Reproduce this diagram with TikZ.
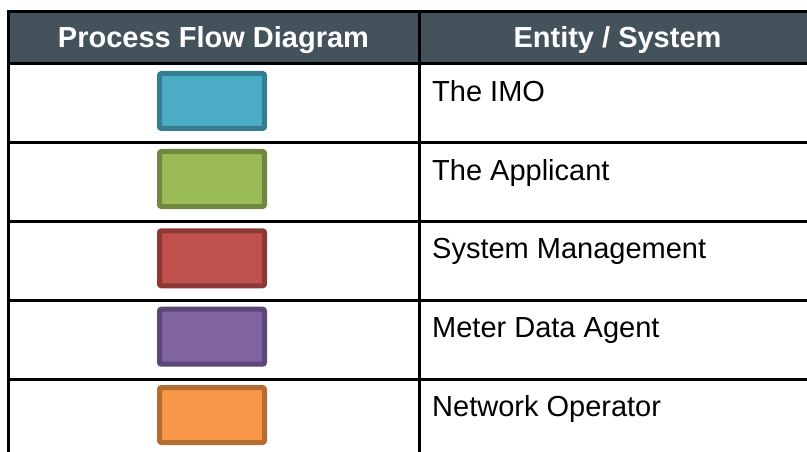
\documentclass[tikz,border=0pt]{standalone}
\usepackage{fontspec}
\setmainfont{Liberation Sans}
\definecolor{headbg}{HTML}{44525C}
\definecolor{imofill}{HTML}{4BACC6}\definecolor{imoline}{HTML}{357D91}
\definecolor{appfill}{HTML}{9BBB59}\definecolor{appline}{HTML}{71893F}
\definecolor{smfill}{HTML}{C0504D}\definecolor{smline}{HTML}{8C3836}
\definecolor{mdafill}{HTML}{8064A2}\definecolor{mdaline}{HTML}{5C4776}
\definecolor{nofill}{HTML}{F79646}\definecolor{noline}{HTML}{B66D31}
\tikzset{
  grid/.style={line width=3pt, draw=black},
  headtext/.style={inner sep=0pt, anchor=base, text=white, font=\fontsize{29}{34}\selectfont\bfseries},
  celltext/.style={inner sep=0pt, anchor=base west, text=black, font=\fontsize{29}{34}\selectfont},
  legendbox/.style={rectangle, rounded corners=2pt, line width=5pt, minimum width=105pt, minimum height=55pt, inner sep=0pt},
}
\begin{document}
\begin{tikzpicture}[x=1pt, y=-1pt]
  \useasboundingbox (0,0) rectangle (807,452);
  \clip (0,0) rectangle (807,452);
  % header band
  \fill[headbg] (8.7,11.7) rectangle (817,64);
  % table rules
  \draw[grid] (8.7,11.7) -- (817,11.7);
  \foreach \yy in {64,143,221.5,300,379,457}
    \draw[grid] (8.7,\yy) -- (817,\yy);
  \draw[grid] (8.7,10.2) -- (8.7,470);
  \draw[grid] (419,10.2) -- (419,470);
  \draw[grid] (817,10.2) -- (817,470);
  % header labels
  \node[headtext] (hpfd) at (213.5,48) {Process Flow Diagram};
  \node[headtext] (hent) at (617.5,48) {Entity / System};
  % colour keys
  \node[legendbox, fill=imofill, draw=imoline] (kimo) at (212,101) {};
  \node[legendbox, fill=appfill, draw=appline] (kapp) at (212,179) {};
  \node[legendbox, fill=smfill, draw=smline] (ksm) at (212,258.3) {};
  \node[legendbox, fill=mdafill, draw=mdaline] (kmda) at (212,336.7) {};
  \node[legendbox, fill=nofill, draw=noline] (kno) at (212,415) {};
  % entity names
  \node[celltext] (timo) at (432,101.5) {The IMO};
  \node[celltext] (tapp) at (432,180.3) {The Applicant};
  \node[celltext] (tsm) at (432,258.8) {System Management};
  \node[celltext] (tmda) at (432,337.3) {Meter Data Agent};
  \node[celltext] (tno) at (432,416) {Network Operator};
\end{tikzpicture}
\end{document}
